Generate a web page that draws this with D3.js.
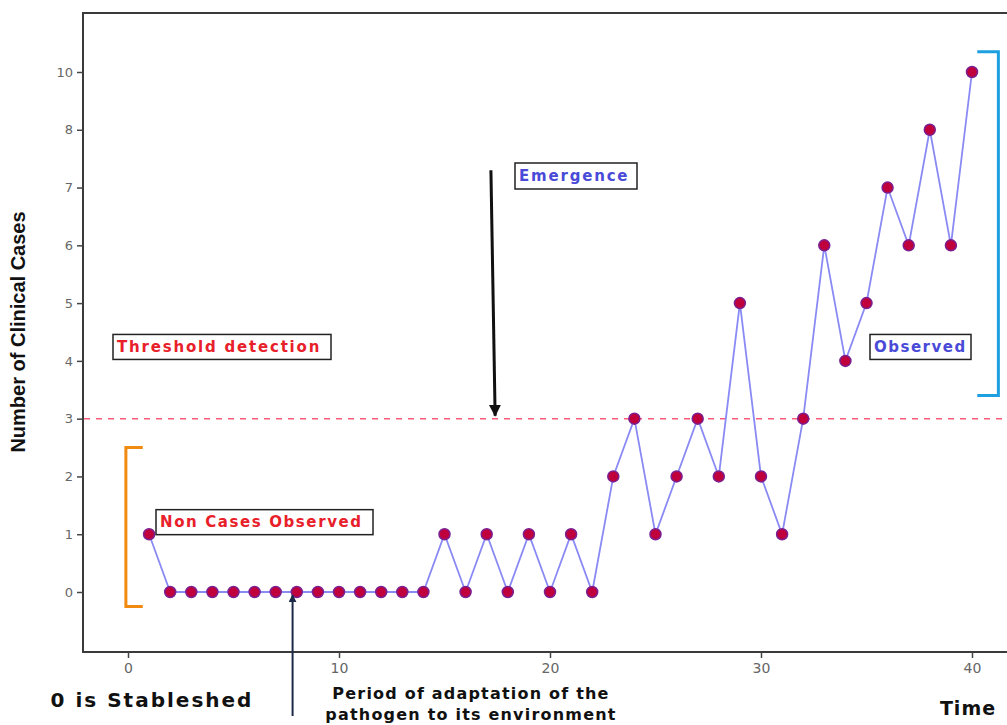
<!DOCTYPE html>
<html><head><meta charset="utf-8">
<script src="https://cdn.jsdelivr.net/npm/d3@7/dist/d3.min.js"></script>
<style>
html,body{margin:0;padding:0;background:#fff;}
svg{display:block;}
</style></head>
<body>
<svg id="chart" width="1007" height="725"></svg>
<script>
// ---- data ----
const time = [1,2,3,4,5,6,7,8,9,10,11,12,13,14,15,16,17,18,19,20,21,22,23,24,25,26,27,28,29,30,31,32,33,34,35,36,37,38,39,40];
const cases = [1,0,0,0,0,0,0,0,0,0,0,0,0,0,1,0,1,0,1,0,1,0,2,3,1,2,3,2,5,2,1,3,6,4,5,7,6,8,6,10];
const yTickLabels = ["0","1","2","3","4","5","6","7","8","10"];
const xTicks = [0,10,20,30,40];
const threshold = 3;
const nonCasesRange = [-0.25, 2.5];   // orange bracket (in y-value units)
const observedRange = [3.4, 10.7];    // blue bracket

const svg = d3.select("#chart");
const frame = {left:83, top:13, right:1012, bottom:652};

const x = d3.scaleLinear().domain([0,40]).range([128,972]);
// y axis is categorical-like: labels equally spaced
const yp = d3.scalePoint().domain(yTickLabels).range([592,72]);
const step = yp.step();
const yi = d3.scaleLinear().domain([0,1]).range([yp("0"), yp("0")-step]);
const yv = v => v <= 8 ? yi(v) : yi(8 + (v-8)/2);

// frame
svg.append("rect").attr("x",frame.left).attr("y",frame.top)
  .attr("width",frame.right-frame.left).attr("height",frame.bottom-frame.top)
  .attr("fill","none").attr("stroke","#3a3a3a").attr("stroke-width",2);

// y axis
const yAxis = d3.axisLeft(yp).tickSize(6).tickPadding(4);
const gy = svg.append("g").attr("transform",`translate(${frame.left},0)`).call(yAxis);
gy.select(".domain").remove();
gy.selectAll(".tick line").attr("stroke","#444").attr("stroke-width",1.5);
gy.selectAll(".tick text").attr("fill","#666").style("font-family","DejaVu Sans, sans-serif").style("font-size","13px");

// x axis
const xAxis = d3.axisBottom(x).tickValues(xTicks).tickSize(6).tickPadding(5).tickFormat(d3.format("d"));
const gx = svg.append("g").attr("transform",`translate(0,${frame.bottom})`).call(xAxis);
gx.select(".domain").remove();
gx.selectAll(".tick line").attr("stroke","#444").attr("stroke-width",1.5);
gx.selectAll(".tick text").attr("fill","#666").style("font-family","DejaVu Sans, sans-serif").style("font-size","14px");

// threshold line
svg.append("line").attr("x1",frame.left+1).attr("x2",1007)
  .attr("y1",yv(threshold)).attr("y2",yv(threshold))
  .attr("stroke","#ff5a7a").attr("stroke-width",1.5).attr("stroke-dasharray","6,6");

// brackets
const ob = [yv(nonCasesRange[1]), yv(nonCasesRange[0])];
svg.append("path").attr("d",`M${x(0.7)},${ob[0]} H${x(-0.1)} V${ob[1]} H${x(0.7)}`)
  .attr("fill","none").attr("stroke","#f08a10").attr("stroke-width",3);
const bb = [yv(observedRange[1]), yv(observedRange[0])];
svg.append("path").attr("d",`M${x(40.25)},${bb[0]} H${x(41.25)} V${bb[1]} H${x(40.25)}`)
  .attr("fill","none").attr("stroke","#1ea0e0").attr("stroke-width",3);

// series line
const line = d3.line().x((d,i)=>x(time[i])).y(d=>yv(d));
svg.append("path").datum(cases).attr("d",line)
  .attr("fill","none").attr("stroke","#8a8af5").attr("stroke-width",1.8);

// points
svg.selectAll("circle.pt").data(cases).enter().append("circle")
  .attr("class","pt").attr("cx",(d,i)=>x(time[i])).attr("cy",d=>yv(d))
  .attr("r",5.5).attr("fill","#c0003c").attr("stroke","#7a2090").attr("stroke-width",1.5);

// annotation boxes
function box(xa, ya, w, h, text, color, ls){
  const g = svg.append("g");
  g.append("rect").attr("x",xa).attr("y",ya).attr("width",w).attr("height",h)
    .attr("fill","#fff").attr("stroke","#222").attr("stroke-width",1.5);
  g.append("text").attr("x",xa+4).attr("y",ya+h/2+5).text(text)
    .attr("fill",color).style("font-family","DejaVu Sans, sans-serif")
    .style("font-size","15px").style("font-weight","bold").style("letter-spacing",ls+"px");
}
box(113, yv(4.25)-12, 218, 25, "Threshold detection", "#e8202a", 1.8);
box(156, yv(1.2)-13, 217, 25, "Non Cases Observed", "#e8202a", 1.6);
box(515, yv(7.2)-13, 122, 26, "Emergence", "#4a4ad8", 1.8);
box(870, yv(4.25)-12, 101, 25, "Observed", "#4a4ad8", 1.5);

// arrows
const defs = svg.append("defs");
defs.append("marker").attr("id","ahBlack").attr("viewBox","0 0 10 10").attr("refX",9).attr("refY",5)
  .attr("markerWidth",4).attr("markerHeight",4).attr("orient","auto")
  .append("path").attr("d","M0,0 L10,5 L0,10 z").attr("fill","#111");
defs.append("marker").attr("id","ahNavy").attr("viewBox","0 0 10 10").attr("refX",9).attr("refY",5)
  .attr("markerWidth",4).attr("markerHeight",4).attr("orient","auto")
  .append("path").attr("d","M0,0 L10,5 L0,10 z").attr("fill","#1c2a48");
svg.append("line").attr("x1",x(17.2)).attr("y1",yv(7.3)).attr("x2",x(17.4)).attr("y2",yv(threshold)-3)
  .attr("stroke","#111").attr("stroke-width",3).attr("marker-end","url(#ahBlack)");
svg.append("line").attr("x1",x(7.8)).attr("y1",716).attr("x2",x(7.8)).attr("y2",yv(0)+3)
  .attr("stroke","#1c2a48").attr("stroke-width",2).attr("marker-end","url(#ahNavy)");

// axis titles / labels
const boldFont = "DejaVu Sans, sans-serif";
svg.append("text").attr("transform",`translate(25,332) rotate(-90)`)
  .attr("text-anchor","middle").text("Number of Clinical Cases")
  .style("font-family","Liberation Sans, Arial, sans-serif").style("font-weight","bold").style("font-size","20px").attr("fill","#111");
svg.append("text").attr("x",152).attr("y",707).attr("text-anchor","middle").text("0 is Stableshed")
  .style("font-family",boldFont).style("font-weight","bold").style("font-size","20px").style("letter-spacing","2px").attr("fill","#111");
svg.append("text").attr("x",471).attr("y",699).attr("text-anchor","middle").text("Period of adaptation of the")
  .style("font-family",boldFont).style("font-weight","bold").style("font-size","16px").style("letter-spacing","1.2px").attr("fill","#111");
svg.append("text").attr("x",471).attr("y",720).attr("text-anchor","middle").text("pathogen to its environment")
  .style("font-family",boldFont).style("font-weight","bold").style("font-size","16px").style("letter-spacing","1.2px").attr("fill","#111");
svg.append("text").attr("x",968).attr("y",715).attr("text-anchor","middle").text("Time")
  .style("font-family",boldFont).style("font-weight","bold").style("font-size","19px").style("letter-spacing","1px").attr("fill","#111");
</script>
</body></html>
